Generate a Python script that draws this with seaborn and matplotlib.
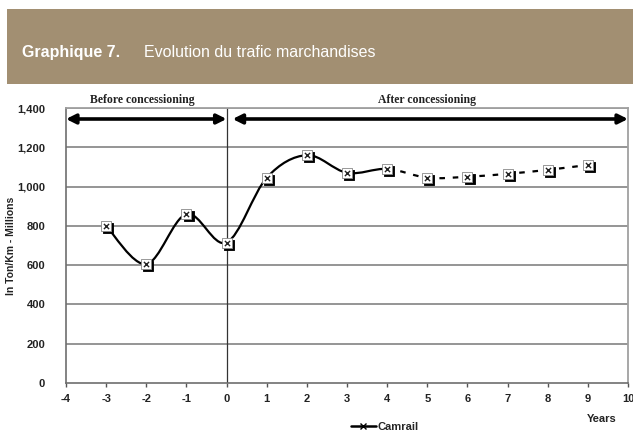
import matplotlib
matplotlib.use("Agg")
import matplotlib.pyplot as plt
import matplotlib.transforms as mtrans
from matplotlib.path import Path
from matplotlib.patches import PathPatch, Rectangle
from matplotlib.lines import Line2D
import numpy as np
import pandas as pd
import seaborn as sns

# data
years = [-3, -2, -1, 0, 1, 2, 3, 4, 5, 6, 7, 8, 9]
camrail = [800, 605, 860, 715, 1045, 1160, 1070, 1090, 1045, 1050, 1065, 1085, 1110]
last_actual = 4  # solid up to here, dashed (forecast) after
y_ticks = [0, 200, 400, 600, 800, 1000, 1200, 1400]
x_ticks = list(range(-4, 11))

df = pd.DataFrame({"year": years, "value": camrail})

sns.set_theme(style="white")
plt.rcParams["font.family"] = ["Liberation Sans", "DejaVu Sans"]

fig = plt.figure(figsize=(6.33, 4.34), dpi=100)

# title band
band = fig.add_axes([7 / 633, 1 - 84 / 434, 1 - 7 / 633, 75 / 434])
band.set_axis_off()
band.add_patch(Rectangle((0, 0), 1, 1, transform=band.transAxes, color="#a28f72"))
band.text(15 / 626, 0.36, "Graphique 7.", color="white", fontsize=11.5,
          fontweight="bold", va="baseline", ha="left", transform=band.transAxes)
band.text(137 / 626, 0.36, "Evolution du trafic marchandises", color="white",
          fontsize=11.5, va="baseline", ha="left", transform=band.transAxes)

ax = fig.add_axes([66 / 633, 1 - 383 / 434, 562 / 633, 275 / 434])
ax.set_xlim(-4, 10)
ax.set_ylim(0, 1400)
ax.set_yticks(y_ticks)
ax.set_yticklabels([f"{v:,}" for v in y_ticks])
ax.set_xticks(x_ticks)
ax.set_xticklabels([str(v) for v in x_ticks])
for y in y_ticks[1:]:
    ax.axhline(y, color="#8c8c8c", lw=1.3, zorder=1)
ax.axvline(0, color="#333333", lw=0.9, zorder=1)
for side in ["top", "right"]:
    ax.spines[side].set_color("#a0a0a0")
    ax.spines[side].set_linewidth(1.3)
for side in ["left", "bottom"]:
    ax.spines[side].set_color("#6e6e6e")
    ax.spines[side].set_linewidth(1.2)
ax.tick_params(axis="x", bottom=True, length=3, width=1, color="#555555",
               labelsize=8, pad=5)
ax.tick_params(axis="y", left=False, labelsize=8, pad=9)
for lab in ax.get_xticklabels() + ax.get_yticklabels():
    lab.set_fontweight("bold")
    lab.set_color("#222222")

# smoothed line (Catmull-Rom style bezier through the data points)
xs = np.array(years, dtype=float)
ys = np.array(camrail, dtype=float)


def bezier_path(i0, i1):
    verts = [(xs[i0], ys[i0])]
    codes = [Path.MOVETO]
    for i in range(i0, i1):
        p0 = (xs[max(i - 1, 0)], ys[max(i - 1, 0)])
        p1 = (xs[i], ys[i])
        p2 = (xs[i + 1], ys[i + 1])
        p3 = (xs[min(i + 2, len(xs) - 1)], ys[min(i + 2, len(xs) - 1)])
        c1 = (p1[0] + (p2[0] - p0[0]) / 6, p1[1] + (p2[1] - p0[1]) / 6)
        c2 = (p2[0] - (p3[0] - p1[0]) / 6, p2[1] - (p3[1] - p1[1]) / 6)
        verts += [c1, c2, p2]
        codes += [Path.CURVE4] * 3
    return Path(verts, codes)


k = years.index(last_actual)
ax.add_patch(PathPatch(bezier_path(0, k), fill=False, lw=1.6, color="black", zorder=3))
ax.add_patch(PathPatch(bezier_path(k, len(xs) - 1), fill=False, lw=1.6,
                       color="black", linestyle=(0, (2.5, 3.5)), zorder=3))

# markers: shadowed open square with an x inside
shadow = ax.transData + mtrans.ScaledTranslation(1.5 / 72, -1.5 / 72, fig.dpi_scale_trans)
sns.scatterplot(data=df, x="year", y="value", marker="s", s=60, color="black",
                edgecolor="black", ax=ax, zorder=4, transform=shadow, legend=False)
sns.scatterplot(data=df, x="year", y="value", marker="s", s=60, color="white",
                edgecolor="#888888", linewidth=0.6, ax=ax, zorder=5, legend=False)
sns.scatterplot(data=df, x="year", y="value", marker="x", s=14, color="#222222",
                linewidth=1.0, ax=ax, zorder=6, legend=False)
ax.set_xlabel("")
ax.set_ylabel("In Ton/Km - Millions", fontsize=7.5, fontweight="bold",
              color="#222222")
ax.yaxis.set_label_coords(-50 / 562, 0.5)

# period arrows
arrow_y = 1344
ax.annotate("", xy=(-4, arrow_y), xytext=(0, arrow_y),
            arrowprops=dict(arrowstyle="<|-|>", color="black", lw=2.6,
                            mutation_scale=14, shrinkA=0, shrinkB=0), zorder=6)
ax.annotate("", xy=(0.15, arrow_y), xytext=(10, arrow_y),
            arrowprops=dict(arrowstyle="<|-|>", color="black", lw=2.6,
                            mutation_scale=14, shrinkA=0, shrinkB=0), zorder=6)
ax.text(-2.1, 1410, "Before concessioning", family=["Liberation Serif"],
        fontweight="bold", fontsize=8.5, ha="center", va="bottom", color="#222222")
ax.text(5.0, 1410, "After concessioning", family=["Liberation Serif"],
        fontweight="bold", fontsize=8.5, ha="center", va="bottom", color="#222222")

fig.text(602 / 633, 1 - 419 / 434, "Years", fontsize=8, fontweight="bold",
         ha="center", va="center", color="#222222")
handle = Line2D([], [], color="black", lw=1.8, marker="x", markersize=5,
                markeredgewidth=1.0)
fig.legend([handle], ["Camrail"], loc="center", bbox_to_anchor=(385 / 633, 1 - 427 / 434),
           frameon=False, prop={"weight": "bold", "size": 8}, handlelength=2.2,
           handletextpad=0.2)

fig.savefig("out.png", dpi=100)
